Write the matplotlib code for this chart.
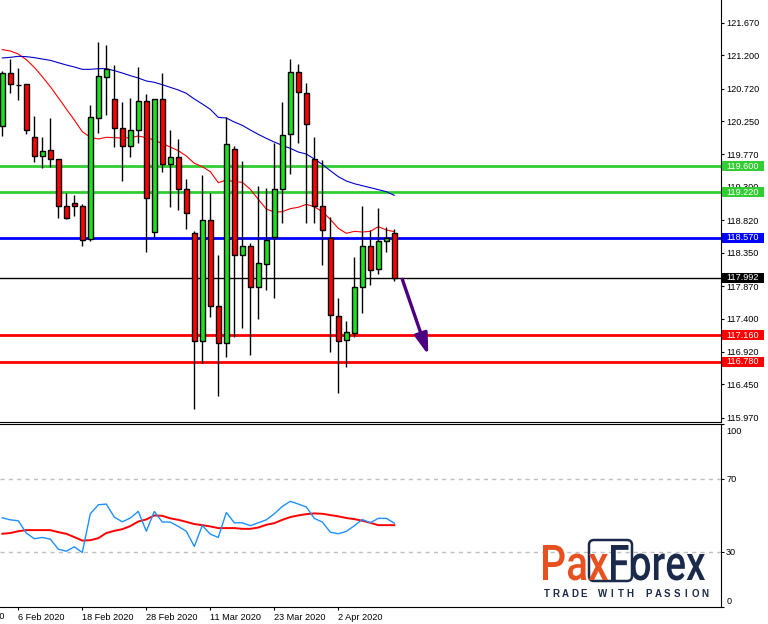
import numpy as np
import matplotlib
matplotlib.use('Agg')
import matplotlib.pyplot as plt
import matplotlib.transforms as mtransforms
from matplotlib.patches import Rectangle, PathPatch, FancyBboxPatch
from matplotlib.textpath import TextPath
from matplotlib.font_manager import FontProperties

plt.rcParams['font.family'] = ['Liberation Sans', 'DejaVu Sans']

# ── Données (bougies journalières, 4 Feb -> 13 Apr 2020) ─────
opens = [120.184, 120.939, 120.776, 120.781, 120.026, 119.751, 119.828, 119.698, 119.020, 119.063,
         119.020, 118.544, 120.300, 120.882, 120.564, 120.146, 119.886, 120.117, 120.535, 118.645,
         120.564, 119.626, 119.727, 119.266, 118.631, 117.072, 118.818, 117.577, 117.043, 119.843,
         118.313, 118.443, 117.851, 118.183, 118.573, 119.266, 120.059, 120.954, 120.651, 119.698,
         119.020, 118.558, 117.433, 117.087, 117.188, 117.851, 118.443, 118.111, 118.515, 118.631]
highs = [120.973, 121.141, 121.012, 120.790, 120.324, 120.021, 120.295, 119.705, 119.208, 119.184,
         119.054, 120.482, 121.387, 121.348, 121.060, 120.521, 120.579, 121.031, 120.636, 120.570,
         120.944, 120.122, 119.992, 119.415, 118.664, 119.472, 119.208, 118.318, 120.304, 119.891,
         119.674, 118.486, 119.318, 119.285, 119.929, 120.531, 121.146, 121.074, 120.800, 120.016,
         119.689, 118.862, 117.697, 117.366, 118.284, 119.025, 118.674, 118.991, 118.717, 118.688]
lows = [120.040, 120.651, 120.555, 120.069, 119.665, 119.578, 119.593, 118.857, 118.837, 118.885,
        118.453, 118.525, 120.083, 120.343, 119.881, 119.391, 119.737, 119.939, 118.366, 118.573,
        119.520, 119.015, 118.967, 118.688, 116.100, 116.764, 117.418, 116.288, 116.851, 117.130,
        117.269, 116.880, 117.390, 117.818, 117.702, 118.785, 119.492, 119.939, 118.785, 118.785,
        118.178, 116.923, 116.331, 116.707, 117.130, 117.486, 117.890, 118.049, 118.366, 117.938]
closes = [120.939, 120.781, 120.766, 120.117, 119.751, 119.814, 119.698, 119.020, 118.857, 119.020,
          118.530, 120.304, 120.896, 121.002, 120.146, 119.886, 120.117, 120.540, 119.136, 120.564,
          119.626, 119.727, 119.266, 118.919, 117.072, 118.818, 117.577, 117.043, 119.915, 118.313,
          118.443, 117.851, 118.198, 118.530, 119.266, 120.045, 120.954, 120.665, 120.203, 119.020,
          118.674, 117.447, 117.072, 117.202, 117.851, 118.443, 118.097, 118.515, 118.558, 117.981]

ma_fast = [121.281, 121.262, 121.218, 121.137, 121.026, 120.891, 120.747, 120.588, 120.425, 120.266,
           120.098, 120.016, 119.992, 120.016, 120.011, 120.006, 120.011, 120.035, 120.011, 119.977,
           119.925, 119.876, 119.823, 119.747, 119.641, 119.593, 119.520, 119.362, 119.400, 119.376,
           119.367, 119.266, 119.121, 118.982, 118.938, 118.943, 118.987, 119.006, 119.049, 119.015,
           118.943, 118.833, 118.703, 118.631, 118.659, 118.650, 118.659, 118.727, 118.679, 118.655]
ma_slow = [121.161, 121.170, 121.185, 121.180, 121.166, 121.146, 121.127, 121.093, 121.060, 121.031,
           120.997, 120.997, 121.007, 121.007, 120.978, 120.944, 120.906, 120.872, 120.829, 120.810,
           120.776, 120.737, 120.699, 120.651, 120.569, 120.497, 120.420, 120.304, 120.295, 120.237,
           120.189, 120.122, 120.059, 120.001, 119.948, 119.900, 119.857, 119.804, 119.775, 119.703,
           119.626, 119.535, 119.448, 119.386, 119.347, 119.318, 119.290, 119.261, 119.232, 119.179]

rsi = [48.6, 47.5, 47.0, 40.3, 37.2, 37.9, 37.0, 31.5, 30.4, 32.8,
       29.7, 50.8, 55.7, 56.1, 49.0, 46.4, 48.5, 52.1, 41.3, 52.1,
       46.3, 46.3, 43.9, 41.3, 33.0, 44.4, 39.7, 37.9, 51.5, 45.9,
       45.9, 44.3, 45.9, 47.5, 50.8, 54.8, 57.6, 56.1, 54.5, 48.3,
       46.3, 40.8, 39.9, 41.2, 44.3, 47.7, 45.9, 48.3, 48.3, 45.7]
rsi_ma = [39.9, 40.3, 41.3, 41.9, 41.9, 41.9, 41.9, 40.8, 39.9, 38.1,
          36.2, 36.4, 37.5, 40.3, 41.5, 42.4, 44.1, 46.6, 47.7, 49.9,
          49.7, 48.3, 47.5, 46.4, 45.2, 44.6, 43.9, 43.0, 43.0, 43.0,
          42.6, 42.6, 43.3, 44.8, 45.7, 47.5, 49.0, 49.9, 50.6, 51.0,
          50.8, 50.1, 49.4, 48.5, 47.9, 47.0, 45.9, 44.6, 44.6, 44.6]

price_ticks = [121.670, 121.200, 120.720, 120.250, 119.770, 119.300, 118.820,
               118.350, 117.870, 117.400, 116.920, 116.450, 115.970]
level_prices = [119.600, 119.220, 118.570, 117.992, 117.160, 116.780]
level_colors = ['#32CD32', '#32CD32', '#0000FF', '#000000', '#FF0000', '#FF0000']
level_widths = [2, 2, 2, 1, 2, 2]

rsi_levels = [70, 30]
rsi_ticks = [100, 70, 30, 0]

date_pos = [-6, 2, 10, 18, 26, 34, 42]
date_labels = ['27 Jan 2020', '6 Feb 2020', '18 Feb 2020', '28 Feb 2020',
               '11 Mar 2020', '23 Mar 2020', '2 Apr 2020']

arrow_start = (50.0, 117.967)
arrow_end = (53.25, 116.875)

# ── Mise en page (pixels) ─────────────────────────────────
W, H = 768, 624
fig = plt.figure(figsize=(W / 100, H / 100), dpi=100)
fs = 6.6
right_px = 721

ax = fig.add_axes([0, (H - 421.5) / H, right_px / W, 421.5 / H])
ax2 = fig.add_axes([0, (H - 607) / H, right_px / W, (607 - 423.5) / H])

x = np.arange(len(opens))
px_per_bar = 8.0
x0 = -2.3 / px_per_bar
ax.set_xlim(x0, x0 + right_px / px_per_bar)
ax2.set_xlim(x0, x0 + right_px / px_per_bar)
ax.set_ylim(121.670 - (421.5 - 22.7) / 69.3, 121.670 + 22.7 / 69.3)
ax2.set_ylim(0, 100)

# ── Graphique principal ───────────────────────────────────
o = np.array(opens); c = np.array(closes)
up = c >= o
body_bot = np.minimum(o, c)
body_h = np.maximum(np.abs(c - o), 0.012)
colors = np.where(up, '#1EE01E', '#FF0000')
colors[2] = '#000000'

for p, col, lw in zip(level_prices, level_colors, level_widths):
    ax.axhline(p, color=col, lw=lw, zorder=1)

ax.plot(x, ma_fast, color='#FF0000', lw=0.8, zorder=2)
ax.plot(x, ma_slow, color='#0000CD', lw=0.8, zorder=2)
ax.vlines(x, lows, highs, color='black', lw=1, zorder=3)
ax.bar(x, body_h, bottom=body_bot, width=0.62, color=colors,
       edgecolor='black', linewidth=1, zorder=4)

ax.annotate('', xy=arrow_end, xytext=arrow_start,
            arrowprops=dict(arrowstyle='-|>,head_length=0.7,head_width=0.22',
                            color='#4B0082', lw=2.4, mutation_scale=18,
                            shrinkA=0, shrinkB=0), zorder=6)

ax.yaxis.tick_right()
ax.set_yticks(price_ticks)
ax.set_yticklabels([f'{v:.3f}' for v in price_ticks])
ax.tick_params(axis='y', direction='out', length=2.2, width=0.8, pad=1.5, labelsize=fs)
ax.tick_params(axis='x', bottom=False, labelbottom=False)
for s in ['top', 'left']:
    ax.spines[s].set_visible(False)

# étiquettes de prix colorées
bt = mtransforms.blended_transform_factory(ax.transAxes, ax.transData)
box_h = 10 / 69.3
for p, col in zip(level_prices, level_colors):
    ax.add_patch(Rectangle((1 + 1 / right_px, p - box_h / 2), 42 / right_px, box_h,
                           transform=bt, facecolor=col, edgecolor='none',
                           clip_on=False, zorder=5))
    ax.text(1 + 22 / right_px, p, f'{p:.3f}', transform=bt, color='white',
            fontsize=fs, ha='center', va='center', clip_on=False, zorder=6)

# ── Indicateur ────────────────────────────────────────────
for lv in rsi_levels:
    ax2.axhline(lv, color='#C0C0C0', lw=1, ls=(0, (3, 3)), zorder=1)
ax2.plot(x, rsi, color='#1E90FF', lw=1, zorder=3)
ax2.plot(x, rsi_ma, color='#FF0000', lw=1.4, zorder=2)

ax2.yaxis.tick_right()
ax2.set_yticks(rsi_ticks)
ax2.set_yticklabels([str(v) for v in rsi_ticks])
ax2.tick_params(axis='y', direction='out', length=2.2, width=0.8, pad=1.5, labelsize=fs)
for lab, v in zip(ax2.get_yticklabels(), rsi_ticks):
    if v == 100:
        lab.set_transform(lab.get_transform() + mtransforms.ScaledTranslation(0, -0.07, fig.dpi_scale_trans))
    if v == 0:
        lab.set_transform(lab.get_transform() + mtransforms.ScaledTranslation(0, 0.07, fig.dpi_scale_trans))
ax2.spines['left'].set_visible(False)

ax2.set_xticks(date_pos[1:])
ax2.set_xticklabels(date_labels[1:])
ax2.tick_params(axis='x', direction='out', length=2.2, width=0.8, pad=2, labelsize=fs)
for lab in ax2.get_xticklabels():
    lab.set_ha('left')
ax2.text(date_pos[0], -5, date_labels[0], fontsize=fs, ha='left', va='top',
         transform=mtransforms.blended_transform_factory(ax2.transData, ax2.transData),
         clip_on=False)
ax2.texts[-1].set_position((date_pos[0], 0))
ax2.texts[-1].set_transform(ax2.transData + mtransforms.ScaledTranslation(0, -0.052, fig.dpi_scale_trans))

# ── Logo ──────────────────────────────────────────────────
lax = fig.add_axes([0, 0, 1, 1], zorder=10)
lax.set_xlim(0, W)
lax.set_ylim(H, 0)
lax.axis('off')
lax.patch.set_alpha(0)

orange = '#E8501F'
navy = '#1B2A4A'
fp = FontProperties(family='Roboto', weight='medium')


def logo_word(s, xl, xr, ytop, ybase, col):
    tp = TextPath((0, 0), s, size=10, prop=fp)
    bb = tp.get_extents()
    tr = (mtransforms.Affine2D().translate(-bb.x0, 0)
          .scale((xr - xl) / bb.width, -(ybase - ytop) / bb.y1)
          .translate(xl, ybase))
    lax.add_patch(PathPatch(tr.transform_path(tp), facecolor=col, edgecolor='none'))


lax.add_patch(FancyBboxPatch((589, 540), 43, 41, boxstyle='round,pad=0,rounding_size=5',
                             fill=False, edgecolor=navy, lw=1.8))
logo_word('Pax', 543, 608, 545, 580, orange)
logo_word('Forex', 611, 705, 545, 580, navy)

tag = 'TRADE WITH PASSION'
step = (707 - 544) / (len(tag) - 0.4)
for i, ch in enumerate(tag):
    lax.text(547 + i * step, 594, ch, fontsize=7, fontweight='bold', color=navy,
             ha='center', va='center')

fig.savefig('out.png', dpi=100)
